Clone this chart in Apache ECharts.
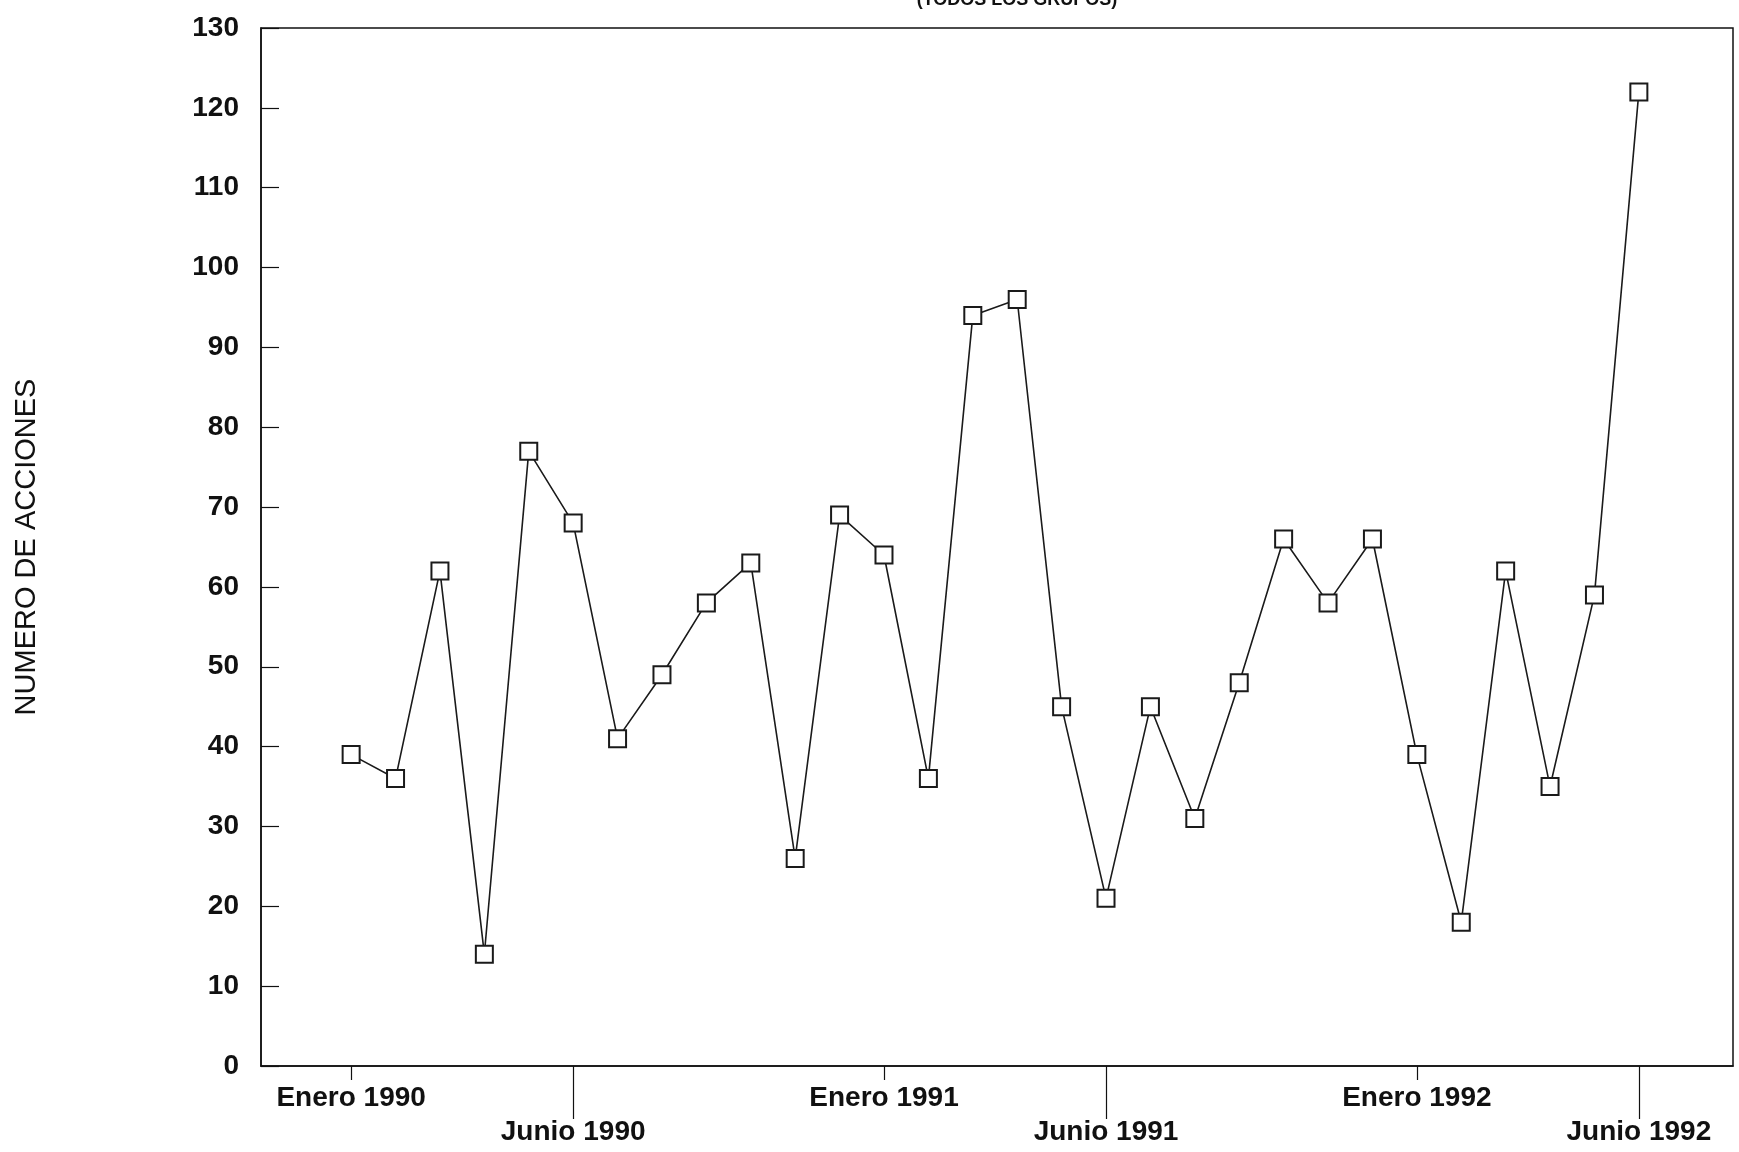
<!DOCTYPE html>
<html>
<head>
<meta charset="utf-8">
<script src="https://cdn.jsdelivr.net/npm/echarts@6/dist/echarts.min.js"></script>
<style>
html,body{margin:0;padding:0;background:#fff;}
#chart{width:1739px;height:1152px;}
</style>
</head>
<body>
<div id="chart"></div>
<script>
// Months from Enero 1990 to Junio 1992 (index 0..29)
var months = [
  'Enero 1990','Febrero 1990','Marzo 1990','Abril 1990','Mayo 1990','Junio 1990',
  'Julio 1990','Agosto 1990','Septiembre 1990','Octubre 1990','Noviembre 1990','Diciembre 1990',
  'Enero 1991','Febrero 1991','Marzo 1991','Abril 1991','Mayo 1991','Junio 1991',
  'Julio 1991','Agosto 1991','Septiembre 1991','Octubre 1991','Noviembre 1991','Diciembre 1991',
  'Enero 1992','Febrero 1992','Marzo 1992','Abril 1992','Mayo 1992','Junio 1992'
];
var acciones = [
  39, 36, 62, 14, 77, 68, 41, 49, 58, 63, 26, 69,
  64, 36, 94, 96, 45, 21, 45, 31, 48, 66, 58, 66,
  39, 18, 62, 35, 59, 122
];
var eneroTicks = [0, 12, 24];
var junioTicks = [5, 17, 29];
var yTicks = {min: 0, max: 130, interval: 10};
var titleText = '(TODOS LOS GRUPOS)';
var yName = 'NUMERO DE ACCIONES';

var seriesData = acciones.map(function (v, i) { return [i, v]; });
var labelFont = {fontFamily: 'Liberation Sans', fontWeight: 'bold', fontSize: 28, color: '#111'};

var chart = echarts.init(document.getElementById('chart'), null, {renderer: 'canvas'});
chart.setOption({
  backgroundColor: '#ffffff',
  animation: false,
  title: {
    text: titleText,
    left: 1012,
    textAlign: 'center',
    top: -14,
    textStyle: {fontFamily: 'Liberation Sans', fontWeight: 'bold', fontSize: 18, color: '#111'}
  },
  grid: {
    left: 261, right: 6, top: 28, bottom: 86,
    show: true, borderColor: '#111', borderWidth: 1.5, backgroundColor: 'transparent'
  },
  xAxis: [
    {
      type: 'value', min: -2.03, max: 31.12, position: 'bottom',
      splitLine: {show: false},
      axisLine: {show: true, onZero: false, lineStyle: {color: '#111', width: 1.5}},
      axisTick: {show: true, customValues: eneroTicks, length: 14, lineStyle: {color: '#111', width: 1.2}},
      axisLabel: Object.assign({
        customValues: eneroTicks, margin: 18,
        formatter: function (v) { return months[Math.round(v)]; }
      }, labelFont)
    },
    {
      type: 'value', min: -2.03, max: 31.12, position: 'bottom', offset: 0,
      splitLine: {show: false},
      axisLine: {show: false, onZero: false},
      axisTick: {show: true, customValues: junioTicks, length: 53, lineStyle: {color: '#111', width: 1.2}},
      axisLabel: Object.assign({
        customValues: junioTicks, margin: 52,
        formatter: function (v) { return months[Math.round(v)]; }
      }, labelFont)
    }
  ],
  yAxis: {
    type: 'value', min: yTicks.min, max: yTicks.max, interval: yTicks.interval,
    position: 'left',
    name: yName, nameLocation: 'middle', nameGap: 220, nameRotate: 90,
    nameTextStyle: {fontFamily: 'Liberation Sans', fontSize: 29, color: '#111'},
    splitLine: {show: false},
    axisLine: {show: true, onZero: false, lineStyle: {color: '#111', width: 1.5}},
    axisTick: {show: true, inside: true, length: 18, lineStyle: {color: '#111', width: 1.2}},
    axisLabel: Object.assign({margin: 22}, labelFont)
  },
  series: [{
    type: 'line',
    xAxisIndex: 0,
    data: seriesData,
    symbol: 'rect',
    symbolSize: 17,
    showAllSymbol: true,
    lineStyle: {color: '#1a1a1a', width: 1.6},
    itemStyle: {color: '#ffffff', borderColor: '#1a1a1a', borderWidth: 2},
    z: 3
  }]
});
</script>
</body>
</html>
